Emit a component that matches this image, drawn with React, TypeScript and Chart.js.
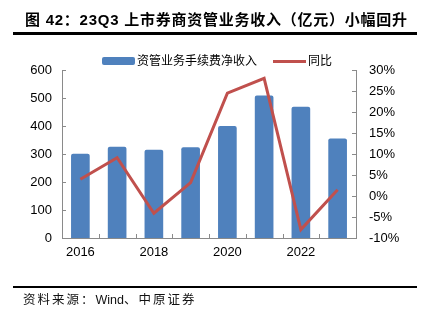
import React, { useEffect, useRef } from "react";
import { Chart, registerables } from "chart.js";

Chart.register(...registerables);

const categories = ["2016", "2017", "2018", "2019", "2020", "2021", "2022", "23Q3"];
const incomeValues = [300, 325, 314, 323, 399, 508, 468, 354];
const yoyValues = [4.0, 9.1, -4.1, 3.2, 24.5, 28.0, -8.0, 1.5];
const leftTicks = [0, 100, 200, 300, 400, 500, 600];
const rightTicks = [-10, -5, 0, 5, 10, 15, 20, 25, 30];

const BAR_COLOR = "#4F81BD";
const LINE_COLOR = "#C0504D";
const AXIS_COLOR = "#8a8a8a";

const tickPlugin = {
  id: "innerTicks",
  afterDraw(chart: any) {
    const { ctx, chartArea } = chart;
    const { left, right, bottom } = chartArea;
    ctx.save();
    ctx.strokeStyle = AXIS_COLOR;
    ctx.lineWidth = 1;
    const yl = chart.scales.y;
    const yr = chart.scales.y1;
    ctx.beginPath();
    yl.ticks.forEach((t: any) => {
      const y = Math.round(yl.getPixelForValue(t.value)) + 0.5;
      ctx.moveTo(left, y);
      ctx.lineTo(left + 4, y);
    });
    yr.ticks.forEach((t: any) => {
      const y = Math.round(yr.getPixelForValue(t.value)) + 0.5;
      ctx.moveTo(right, y);
      ctx.lineTo(right - 4, y);
    });
    const n = categories.length;
    for (let i = 1; i < n; i++) {
      const x = Math.round(left + (i * (right - left)) / n) + 0.5;
      ctx.moveTo(x, bottom);
      ctx.lineTo(x, bottom - 4);
    }
    ctx.stroke();
    ctx.restore();
  },
};

function ChartCanvas() {
  const ref = useRef<HTMLCanvasElement | null>(null);
  useEffect(() => {
    if (!ref.current) return;
    const chart = new Chart(ref.current, {
      type: "bar",
      data: {
        labels: categories,
        datasets: [
          {
            type: "line",
            label: "同比",
            data: yoyValues,
            yAxisID: "y1",
            borderColor: LINE_COLOR,
            backgroundColor: LINE_COLOR,
            borderWidth: 3,
            pointRadius: 0,
            tension: 0,
            order: 0,
          } as any,
          {
            type: "bar",
            label: "资管业务手续费净收入",
            data: incomeValues,
            yAxisID: "y",
            backgroundColor: BAR_COLOR,
            borderRadius: 2,
            barThickness: 18,
            order: 1,
          } as any,
        ],
      },
      options: {
        responsive: false,
        animation: false,
        layout: { padding: { top: 70, left: 0, right: 0, bottom: 0 } },
        plugins: {
          legend: { display: false },
          tooltip: { enabled: false },
        },
        scales: {
          x: {
            offset: true,
            grid: { display: false, drawTicks: false },
            border: { display: true, color: AXIS_COLOR },
            ticks: {
              autoSkip: false,
              maxRotation: 0,
              padding: 7,
              color: "#000",
              font: { size: 13, family: "Liberation Sans" },
              callback: (_v: any, i: number) => (i % 2 === 0 ? categories[i] : ""),
            },
            afterFit: (s: any) => {
              s.height = 85;
            },
          },
          y: {
            position: "left",
            min: 0,
            max: 600,
            grid: { display: false, drawTicks: false },
            border: { display: true, color: AXIS_COLOR },
            afterBuildTicks: (s: any) => {
              s.ticks = leftTicks.map((v) => ({ value: v }));
            },
            ticks: {
              padding: 10,
              color: "#000",
              font: { size: 13, family: "Liberation Sans" },
            },
            afterFit: (s: any) => {
              s.width = 62;
            },
          },
          y1: {
            position: "right",
            min: -10,
            max: 30,
            grid: { display: false, drawTicks: false },
            border: { display: true, color: AXIS_COLOR },
            afterBuildTicks: (s: any) => {
              s.ticks = rightTicks.map((v) => ({ value: v }));
            },
            ticks: {
              padding: 13,
              color: "#000",
              font: { size: 13, family: "Liberation Sans" },
              callback: (v: any) => `${v}%`,
            },
            afterFit: (s: any) => {
              s.width = 67;
            },
          },
        },
      },
      plugins: [tickPlugin],
    });
    return () => chart.destroy();
  }, []);
  return (
    <canvas
      ref={ref}
      width={423}
      height={323}
      style={{ position: "absolute", left: 0, top: 0, width: 423, height: 323 }}
    />
  );
}

export default function App() {
  const cjk = '"Liberation Sans", "Noto Sans CJK SC", sans-serif';
  return (
    <div
      style={{
        position: "fixed",
        left: 0,
        top: 0,
        width: 423,
        height: 323,
        background: "#fff",
        overflow: "hidden",
        fontFamily: cjk,
      }}
    >
      <ChartCanvas />
      <div
        style={{
          position: "absolute",
          left: 25,
          top: 10,
          height: 20,
          lineHeight: "20px",
          fontSize: 15,
          fontWeight: "bold",
          letterSpacing: 0.75,
          whiteSpace: "nowrap",
          color: "#000",
        }}
      >
        图 42：23Q3 上市券商资管业务收入（亿元）小幅回升
      </div>
      <div style={{ position: "absolute", left: 13, top: 32, width: 404, height: 2.5, background: "#000" }} />
      {/* legend */}
      <div
        style={{
          position: "absolute",
          left: 101.5,
          top: 57,
          width: 33.5,
          height: 8,
          borderRadius: 2,
          background: BAR_COLOR,
        }}
      />
      <div
        style={{
          position: "absolute",
          left: 137,
          top: 53,
          height: 16,
          lineHeight: "16px",
          fontSize: 12,
          whiteSpace: "nowrap",
          color: "#000",
        }}
      >
        资管业务手续费净收入
      </div>
      <div style={{ position: "absolute", left: 273, top: 59.5, width: 33, height: 3, background: LINE_COLOR }} />
      <div
        style={{
          position: "absolute",
          left: 308,
          top: 53,
          height: 16,
          lineHeight: "16px",
          fontSize: 12,
          whiteSpace: "nowrap",
          color: "#000",
        }}
      >
        同比
      </div>
      <div style={{ position: "absolute", left: 13, top: 286, width: 404, height: 2, background: "#000" }} />
      <div
        style={{
          position: "absolute",
          left: 23,
          top: 292,
          height: 16,
          lineHeight: "16px",
          fontSize: 12.5,
          letterSpacing: 2,
          whiteSpace: "nowrap",
          color: "#111",
        }}
      >
        资料来源：<span style={{ letterSpacing: 0 }}>Wind</span>、中原证券
      </div>
    </div>
  );
}
